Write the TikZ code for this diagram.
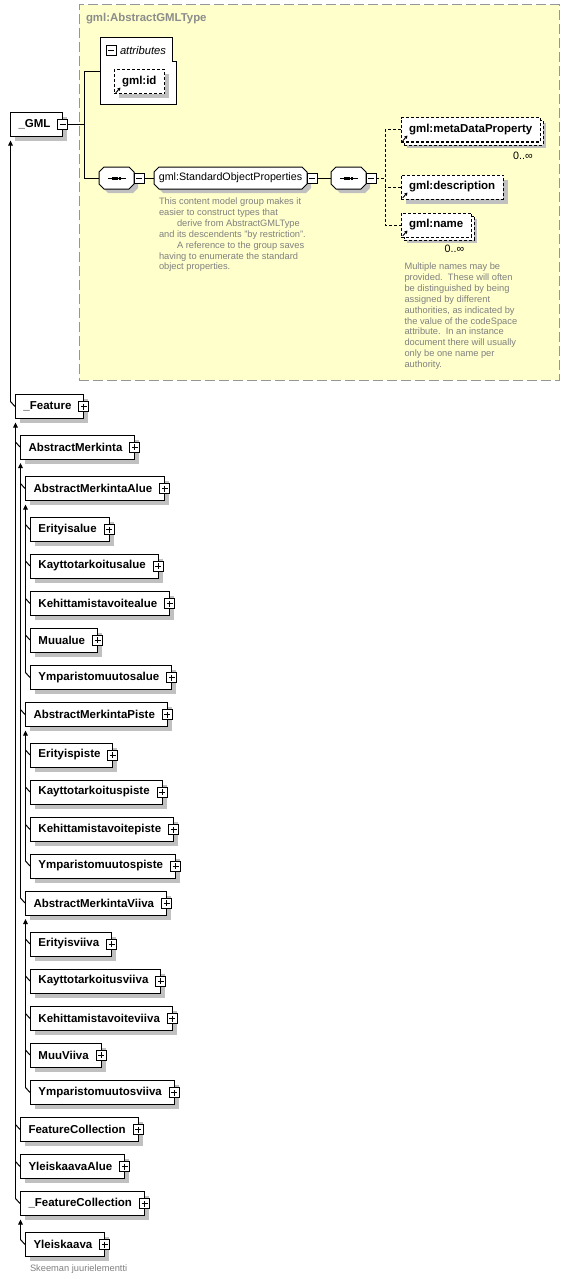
\documentclass[tikz,border=0pt]{standalone}
\usepackage{fontspec}
\setmainfont{Liberation Sans}
\usetikzlibrary{arrows.meta,shadows,calc}
\definecolor{ybg}{RGB}{255,255,204}
\definecolor{ybd}{RGB}{150,150,150}
\definecolor{dgray}{RGB}{128,128,128}
\definecolor{tgray}{RGB}{140,140,140}
\definecolor{shd}{RGB}{192,192,192}
\newcommand\elfont{\fontsize{11.5}{13}\selectfont\bfseries}
\newcommand\rgfont{\fontsize{10.7}{12}\selectfont}
\newcommand\dsfont{\fontsize{9.3}{10.9}\selectfont}
\newcommand\elm[4]{%
  \node[elem] (#1) at (#2,#3) {\kern8.5pt#4\kern12.5pt};
  \node[plusbox] (#1p) at (#1.east) {};}
\newcommand\stub[1]{\draw[conn] ($(#1.west)+(-4.5,-5)$) -- (#1.west);}
\newcommand\trunk[2]{\draw[conn,-{Triangle[width=4.5pt,length=5pt]}] ($(#2.west)+(-4.5,-5)$) -- ($(#1.south west)+(0.5,4)$);}
\newcommand\octo[7]{%
  \fill[shd] ({#2+#6+4},{#3+4}) -- ({#4-#6+4},{#3+4}) -- ({#4+4},{#3+#6+4}) -- ({#4+4},{#5-#6+4}) -- ({#4-#6+4},{#5+4}) -- ({#2+#6+4},{#5+4}) -- ({#2+4},{#5-#6+4}) -- ({#2+4},{#3+#6+4}) -- cycle;
  \draw[fill=white] ({#2+#6},#3) -- ({#4-#6},#3) -- (#4,{#3+#6}) -- (#4,{#5-#6}) -- ({#4-#6},#5) -- ({#2+#6},#5) -- (#2,{#5-#6}) -- (#2,{#3+#6}) -- cycle;
  \node[inner sep=0pt, outer sep=0pt, minimum width={#4-#2}, minimum height={#5-#3}, font=\rgfont] (#1) at ({(#2+#4)/2},{(#3+#5)/2}) {#7};}
\newcommand\seqdots[1]{%
  \draw ($(#1.west)+(9,0)$) -- ($(#1.east)+(-8,0)$);
  \foreach \d in {-3.3,0,3.3} \fill ($(#1.center)+(\d-1.3,-1.5)$) rectangle ++(2.6,3);}
\newcommand\refarrow[1]{\draw[line width=0.9pt,-{Triangle[width=3.2pt,length=3pt]}] ($(#1.south west)+(1.8,-1.2)$) -- ($(#1.south west)+(6.5,-6.5)$);}
\begin{document}
\begin{tikzpicture}[x=1pt,y=-1pt,line width=1pt,
  conn/.style={line width=1pt},
  elem/.style={draw, fill=white, anchor=west, minimum height=24pt, inner sep=0pt, outer sep=0pt, font=\elfont,
    general shadow={fill=shd, shadow xshift=4.5pt, shadow yshift=-4.5pt}},
  refbase/.style={draw, dash pattern=on 3pt off 2pt, fill=white, anchor=west, minimum height=24pt, inner sep=0pt, outer sep=0pt, font=\elfont},
  refel/.style={refbase, general shadow={fill=shd, shadow xshift=4.5pt, shadow yshift=-4.5pt}},
  refback/.style={refbase, general shadow={fill=shd, shadow xshift=2.5pt, shadow yshift=-2.5pt}},
  plusbox/.style={draw, fill=white, minimum size=10pt, inner sep=0pt, outer sep=0pt,
    path picture={\draw[line width=1pt] ([xshift=2pt]path picture bounding box.west) -- ([xshift=-2pt]path picture bounding box.east);
      \draw[line width=1pt] ([yshift=-2pt]path picture bounding box.north) -- ([yshift=2pt]path picture bounding box.south);}},
  minusbox/.style={draw, fill=white, minimum size=10pt, inner sep=0pt, outer sep=0pt,
    path picture={\draw[line width=1pt] ([xshift=2pt]path picture bounding box.west) -- ([xshift=-2pt]path picture bounding box.east);}},
  desc/.style={align=left, inner sep=0pt, outer sep=0pt, text=dgray, font=\dsfont},
  mult/.style={inner sep=0pt, font=\rgfont}
]
\useasboundingbox (0,0) rectangle (570,1279);

% yellow type box
\node[draw=ybd, fill=ybg, dash pattern=on 10pt off 4pt, minimum width=480pt, minimum height=375pt, inner sep=0pt, outer sep=0pt, anchor=north west] (agt) at (79,5) {};
\node[anchor=west, inner sep=0pt, text=tgray, font=\fontsize{11.4}{13}\selectfont\bfseries] (ttl) at (85.5,19) {gml:AbstractGMLType};

% _GML
\node[elem] (gml) at (10,124.5) {\kern8.5pt\_GML\kern12.5pt};
\node[minusbox] (gmlm) at (gml.east) {};

% attributes
\node[anchor=north west, minimum width=76pt, minimum height=67pt, inner sep=0pt, outer sep=0pt] (attrs) at (100,38) {};
\draw[fill=white] (attrs.north west) -- ($(attrs.north east)+(-4,0)$) -- ($(attrs.north east)+(-4,24)$) -- ($(attrs.north east)+(0,24)$) -- (attrs.south east) -- (attrs.south west) -- cycle;
\node[minusbox] (attrm) at (111,50.5) {};
\node[anchor=west, inner sep=0pt, font=\fontsize{11.2}{13}\selectfont\itshape] (attrt) at (119.5,50.5) {attributes};
\node[refel] (gid) at (114,82) {\kern8pt gml:id\kern8.5pt};
\refarrow{gid}

% sequence and group
\octo{seq1}{99}{167}{134}{189}{5}{}
\seqdots{seq1}
\node[minusbox, anchor=west] (seq1m) at (seq1.east) {};
\octo{sop}{154}{167}{307}{189}{5}{gml:StandardObjectProperties}
\node[minusbox, anchor=west] (sopm) at (sop.east) {};
\octo{seq2}{331}{167}{366}{189}{5}{}
\seqdots{seq2}
\node[minusbox, anchor=west] (seq2m) at (seq2.east) {};

\coordinate (fork) at ($(gmlm.east)+(17,0)$);
\draw[conn] (gmlm.east) -- (fork);
\draw[conn] (attrs.west) -| (fork) |- (seq1.west);
\draw[conn] (seq1m.east) -- (sop.west);
\draw[conn] (sopm.east) -- (seq2.west);

% child elements of the sequence
\node[refback] (mdpb) at (404,133) {\kern8pt\phantom{gml:metaDataProperty}\kern8pt};
\node[refbase] (mdp) at (401,130) {\kern8pt gml:metaDataProperty\kern8pt};
\refarrow{mdp}
\node[mult] (mdpo) at (523,155.5) {0..∞};
\node[refel] (gdesc) at (401,187) {\kern8pt gml:description\kern8pt};
\refarrow{gdesc}
\node[refback] (gnameb) at (404,228) {\kern8pt\phantom{gml:name}\kern8pt};
\node[refbase] (gname) at (401,225) {\kern8pt gml:name\kern8pt};
\refarrow{gname}
\node[mult] (gnameo) at (454.5,248.5) {0..∞};

\coordinate (dfork) at ($(seq2m.east)+(9,0)$);
\draw[conn, dash pattern=on 3pt off 2pt] (seq2m.east) -- (dfork);
\draw[conn, dash pattern=on 3pt off 2pt] (mdp.west) -| (dfork) |- (gname.west);
\draw[conn, dash pattern=on 3pt off 2pt] (gdesc.west) -- (gdesc.west -| dfork);

% descriptions
\node[desc, anchor=north west] (sopd) at (159,197.8) {This content model group makes it\\easier to construct types that\\\hspace*{18pt}derive from AbstractGMLType\\and its descendents "by restriction".\\\hspace*{18pt}A reference to the group saves\\having to enumerate the standard\\object properties.};
\node[desc, anchor=north west] (gnamed) at (404.5,262.8) {Multiple names may be\\provided.\ \ These will often\\be distinguished by being\\assigned by different\\authorities, as indicated by\\the value of the codeSpace\\attribute.\ \ In an instance\\document there will usually\\only be one name per\\authority.};

% derived types tree
\elm{feat}{15}{406.5}{\_Feature}
\elm{am}{20}{447}{AbstractMerkinta}
\elm{ama}{25}{488.5}{AbstractMerkintaAlue}
\elm{ea}{30}{529.5}{Erityisalue}
\elm{ka}{30}{566}{Kayttotarkoitusalue}
\elm{kea}{30}{603.5}{Kehittamistavoitealue}
\elm{mua}{30}{640}{Muualue}
\elm{ya}{30}{677.5}{Ymparistomuutosalue}
\elm{amp}{25}{714.5}{AbstractMerkintaPiste}
\elm{ep}{30}{755}{Erityispiste}
\elm{kp}{30}{792}{Kayttotarkoituspiste}
\elm{kep}{30}{829.5}{Kehittamistavoitepiste}
\elm{yp}{30}{866}{Ymparistomuutospiste}
\elm{amv}{25}{903}{AbstractMerkintaViiva}
\elm{ev}{30}{944}{Erityisviiva}
\elm{kv}{30}{981}{Kayttotarkoitusviiva}
\elm{kev}{30}{1018.5}{Kehittamistavoiteviiva}
\elm{mv}{30}{1055}{MuuViiva}
\elm{yv}{30}{1092.5}{Ymparistomuutosviiva}
\elm{fc}{20}{1129.5}{FeatureCollection}
\elm{yka}{20}{1166.5}{YleiskaavaAlue}
\elm{ufc}{20}{1203.5}{\_FeatureCollection}
\elm{yk}{25}{1244.5}{Yleiskaava}
\node[desc, anchor=west] (root) at (30,1269.5) {Skeeman juurielementti};

\trunk{gml}{feat} \stub{feat}
\trunk{feat}{ufc} \stub{am} \stub{fc} \stub{yka} \stub{ufc}
\trunk{am}{amv} \stub{ama} \stub{amp} \stub{amv}
\trunk{ama}{ya} \stub{ea} \stub{ka} \stub{kea} \stub{mua} \stub{ya}
\trunk{amp}{yp} \stub{ep} \stub{kp} \stub{kep} \stub{yp}
\trunk{amv}{yv} \stub{ev} \stub{kv} \stub{kev} \stub{mv} \stub{yv}
\trunk{ufc}{yk} \stub{yk}
\end{tikzpicture}
\end{document}
